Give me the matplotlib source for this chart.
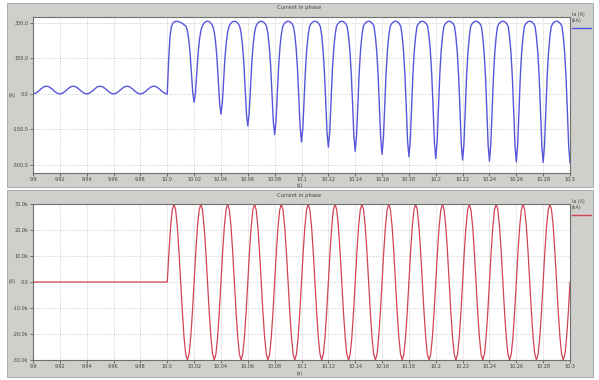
import numpy as np
import matplotlib
matplotlib.use('Agg')
import matplotlib.pyplot as plt
from matplotlib.patches import Rectangle
from matplotlib.ticker import FuncFormatter

# time axis, seconds
t_start, t_fault, t_end = 9.9, 10.0, 10.3
x_ticks = [9.9, 9.92, 9.94, 9.96, 9.98, 10.0, 10.02, 10.04, 10.06, 10.08, 10.1,
           10.12, 10.14, 10.16, 10.18, 10.2, 10.22, 10.24, 10.26, 10.28, 10.3]
x_labels = ['9.9', '9.92', '9.94', '9.96', '9.98', '10.0', '10.02', '10.04', '10.06',
            '10.08', '10.1', '10.12', '10.14', '10.16', '10.18', '10.2', '10.22',
            '10.24', '10.26', '10.28', '10.3']

# top trace (A) before the fault, read every 2 ms from 9.900 to 9.998
top_pre = [
    0, 3.2, 11.4, 21.6, 29.9, 33.0, 29.9, 21.6, 11.4, 3.2,
    0, 3.2, 11.4, 21.6, 29.9, 33.0, 29.9, 21.6, 11.4, 3.2,
    0, 3.2, 11.4, 21.6, 29.9, 33.0, 29.9, 21.6, 11.4, 3.2,
    0, 3.2, 11.4, 21.6, 29.9, 33.0, 29.9, 21.6, 11.4, 3.2,
    0, 3.2, 11.4, 21.6, 29.9, 33.0, 29.9, 21.6, 11.4, 3.2,
]

# top trace (A) after the fault, read every 1 ms from 10.000 to 10.300
top_post = [
    0, 140, 240, 283, 298, 304, 306, 307, 306, 304, 302, 299, 295, 290, 285, 267, 230, 173, 92, 5,
    -35, 5, 92, 173, 230, 267, 285, 296, 302, 306, 307, 306, 302, 296, 285, 262, 219, 154, 61, -39,
    -85, -39, 61, 154, 219, 262, 285, 296, 302, 306, 307, 306, 302, 296, 285, 257, 209, 135, 30, -83,
    -135, -83, 30, 135, 209, 257, 285, 296, 302, 306, 307, 306, 302, 296, 285, 253, 201, 121, 7, -115,
    -172, -115, 7, 121, 201, 253, 285, 296, 302, 306, 307, 306, 302, 296, 285, 250, 194, 109, -12, -143,
    -203, -143, -12, 109, 194, 250, 285, 296, 302, 306, 307, 306, 302, 296, 285, 248, 190, 101, -25, -162,
    -225, -162, -25, 101, 190, 248, 285, 296, 302, 306, 307, 306, 302, 296, 285, 246, 186, 94, -36, -177,
    -242, -177, -36, 94, 186, 246, 285, 296, 302, 306, 307, 306, 302, 296, 285, 245, 183, 89, -44, -188,
    -255, -188, -44, 89, 183, 245, 285, 296, 302, 306, 307, 306, 302, 296, 285, 244, 181, 85, -50, -197,
    -265, -197, -50, 85, 181, 244, 285, 296, 302, 306, 307, 306, 302, 296, 285, 243, 180, 82, -55, -204,
    -273, -204, -55, 82, 180, 243, 285, 296, 302, 306, 307, 306, 302, 296, 285, 242, 178, 80, -59, -210,
    -279, -210, -59, 80, 178, 242, 285, 296, 302, 306, 307, 306, 302, 296, 285, 242, 177, 78, -62, -214,
    -284, -214, -62, 78, 177, 242, 285, 296, 302, 306, 307, 306, 302, 296, 285, 241, 177, 77, -64, -217,
    -287, -217, -64, 77, 177, 241, 285, 296, 302, 306, 307, 306, 302, 296, 285, 241, 176, 76, -65, -218,
    -289, -218, -65, 76, 176, 241, 285, 296, 302, 306, 307, 306, 302, 296, 285, 241, 176, 75, -66, -220,
    -291,
]

# bottom trace (kA): zero before the fault, then read every 1.25 ms up to 10.300
bottom_pre = [0, 0]
bottom_post = [
    0, 11.5, 21.2, 27.7, 30, 27.7, 21.2, 11.5, 0, -11.5, -21.2, -27.7, -30, -27.7, -21.2, -11.5,
    0, 11.5, 21.2, 27.7, 30, 27.7, 21.2, 11.5, 0, -11.5, -21.2, -27.7, -30, -27.7, -21.2, -11.5,
    0, 11.5, 21.2, 27.7, 30, 27.7, 21.2, 11.5, 0, -11.5, -21.2, -27.7, -30, -27.7, -21.2, -11.5,
    0, 11.5, 21.2, 27.7, 30, 27.7, 21.2, 11.5, 0, -11.5, -21.2, -27.7, -30, -27.7, -21.2, -11.5,
    0, 11.5, 21.2, 27.7, 30, 27.7, 21.2, 11.5, 0, -11.5, -21.2, -27.7, -30, -27.7, -21.2, -11.5,
    0, 11.5, 21.2, 27.7, 30, 27.7, 21.2, 11.5, 0, -11.5, -21.2, -27.7, -30, -27.7, -21.2, -11.5,
    0, 11.5, 21.2, 27.7, 30, 27.7, 21.2, 11.5, 0, -11.5, -21.2, -27.7, -30, -27.7, -21.2, -11.5,
    0, 11.5, 21.2, 27.7, 30, 27.7, 21.2, 11.5, 0, -11.5, -21.2, -27.7, -30, -27.7, -21.2, -11.5,
    0, 11.5, 21.2, 27.7, 30, 27.7, 21.2, 11.5, 0, -11.5, -21.2, -27.7, -30, -27.7, -21.2, -11.5,
    0, 11.5, 21.2, 27.7, 30, 27.7, 21.2, 11.5, 0, -11.5, -21.2, -27.7, -30, -27.7, -21.2, -11.5,
    0, 11.5, 21.2, 27.7, 30, 27.7, 21.2, 11.5, 0, -11.5, -21.2, -27.7, -30, -27.7, -21.2, -11.5,
    0, 11.5, 21.2, 27.7, 30, 27.7, 21.2, 11.5, 0, -11.5, -21.2, -27.7, -30, -27.7, -21.2, -11.5,
    0, 11.5, 21.2, 27.7, 30, 27.7, 21.2, 11.5, 0, -11.5, -21.2, -27.7, -30, -27.7, -21.2, -11.5,
    0, 11.5, 21.2, 27.7, 30, 27.7, 21.2, 11.5, 0, -11.5, -21.2, -27.7, -30, -27.7, -21.2, -11.5,
    0, 11.5, 21.2, 27.7, 30, 27.7, 21.2, 11.5, 0, -11.5, -21.2, -27.7, -30, -27.7, -21.2, -11.5,
    0,
]

top_yticks = [300, 150, 0, -150, -300]
bottom_yticks = [30, 20, 10, 0, -10, -20, -30]

panel_gray = '#cfcfcb'
grid_gray = '#bcbcbc'
text_col = '#444444'


def style_axes(ax, yticks, ylim, fmt):
    ax.set_xlim(t_start, t_end)
    ax.set_ylim(*ylim)
    ax.set_xticks(x_ticks)
    ax.set_xticklabels(x_labels)
    ax.set_yticks(yticks)
    ax.yaxis.set_major_formatter(FuncFormatter(fmt))
    ax.tick_params(labelsize=3.5, length=2, width=0.5, pad=1.2, colors=text_col)
    ax.grid(True, color=grid_gray, linestyle=(0, (1.5, 2)), linewidth=0.5)
    for s in ax.spines.values():
        s.set_color('#707070')
        s.set_linewidth(0.8)


fig = plt.figure(figsize=(5.99, 3.80), dpi=100)
fig.patch.set_facecolor('white')

# gray frames behind each plot
fig.patches.append(Rectangle((0.0117, 0.5079), 0.9783, 0.4842, transform=fig.transFigure,
                             facecolor=panel_gray, edgecolor='#a0a0a0', linewidth=0.6, zorder=-1))
fig.patches.append(Rectangle((0.0117, 0.0079), 0.9783, 0.4921, transform=fig.transFigure,
                             facecolor=panel_gray, edgecolor='#a0a0a0', linewidth=0.6, zorder=-1))

ax1 = fig.add_axes([0.0551, 0.5447, 0.8965, 0.4105])
ax2 = fig.add_axes([0.0551, 0.0526, 0.8965, 0.4105])

t_top = np.concatenate([np.linspace(t_start, t_fault - 0.002, len(top_pre)),
                        np.linspace(t_fault, t_end, len(top_post))])
t_bot = np.concatenate([np.linspace(t_start, t_fault, len(bottom_pre)),
                        np.linspace(t_fault, t_end, len(bottom_post))])

ax1.plot(t_top, top_pre + top_post, color='#5656dc', linewidth=1.0)
ax2.plot(t_bot, bottom_pre + bottom_post, color='#d04456', linewidth=0.9)

style_axes(ax1, top_yticks, (-334, 325), lambda v, p: f'{v:.1f}')
style_axes(ax2, bottom_yticks, (-30, 30), lambda v, p: '0.0' if v == 0 else f'{v:.1f}k')

# titles, axis labels and legends
for y_title, y_xlab, y_ylab in [(0.981, 0.512, 0.75), (0.485, 0.018, 0.258)]:
    fig.text(0.5, y_title, 'Current in phase', ha='center', va='center',
             fontsize=3.8, color=text_col)
    fig.text(0.5, y_xlab, '(s)', ha='center', va='center', fontsize=3.4, color=text_col)
    fig.text(0.02, y_ylab, '(A)', ha='center', va='center', fontsize=3.4, color=text_col)

fig.text(0.955, 0.962, 'Ia (A)', fontsize=3.4, color=text_col, va='center')
fig.text(0.955, 0.945, '(kA)', fontsize=3.4, color=text_col, va='center')
ax1.plot([1.004, 1.04], [0.93, 0.93], transform=ax1.transAxes, color='#5656dc',
         linewidth=1.0, clip_on=False)
fig.text(0.955, 0.470, 'Ia (A)', fontsize=3.4, color=text_col, va='center')
fig.text(0.955, 0.453, '(kA)', fontsize=3.4, color=text_col, va='center')
ax2.plot([1.004, 1.04], [0.93, 0.93], transform=ax2.transAxes, color='#d04456',
         linewidth=1.0, clip_on=False)

fig.savefig('out.png', dpi=100)
